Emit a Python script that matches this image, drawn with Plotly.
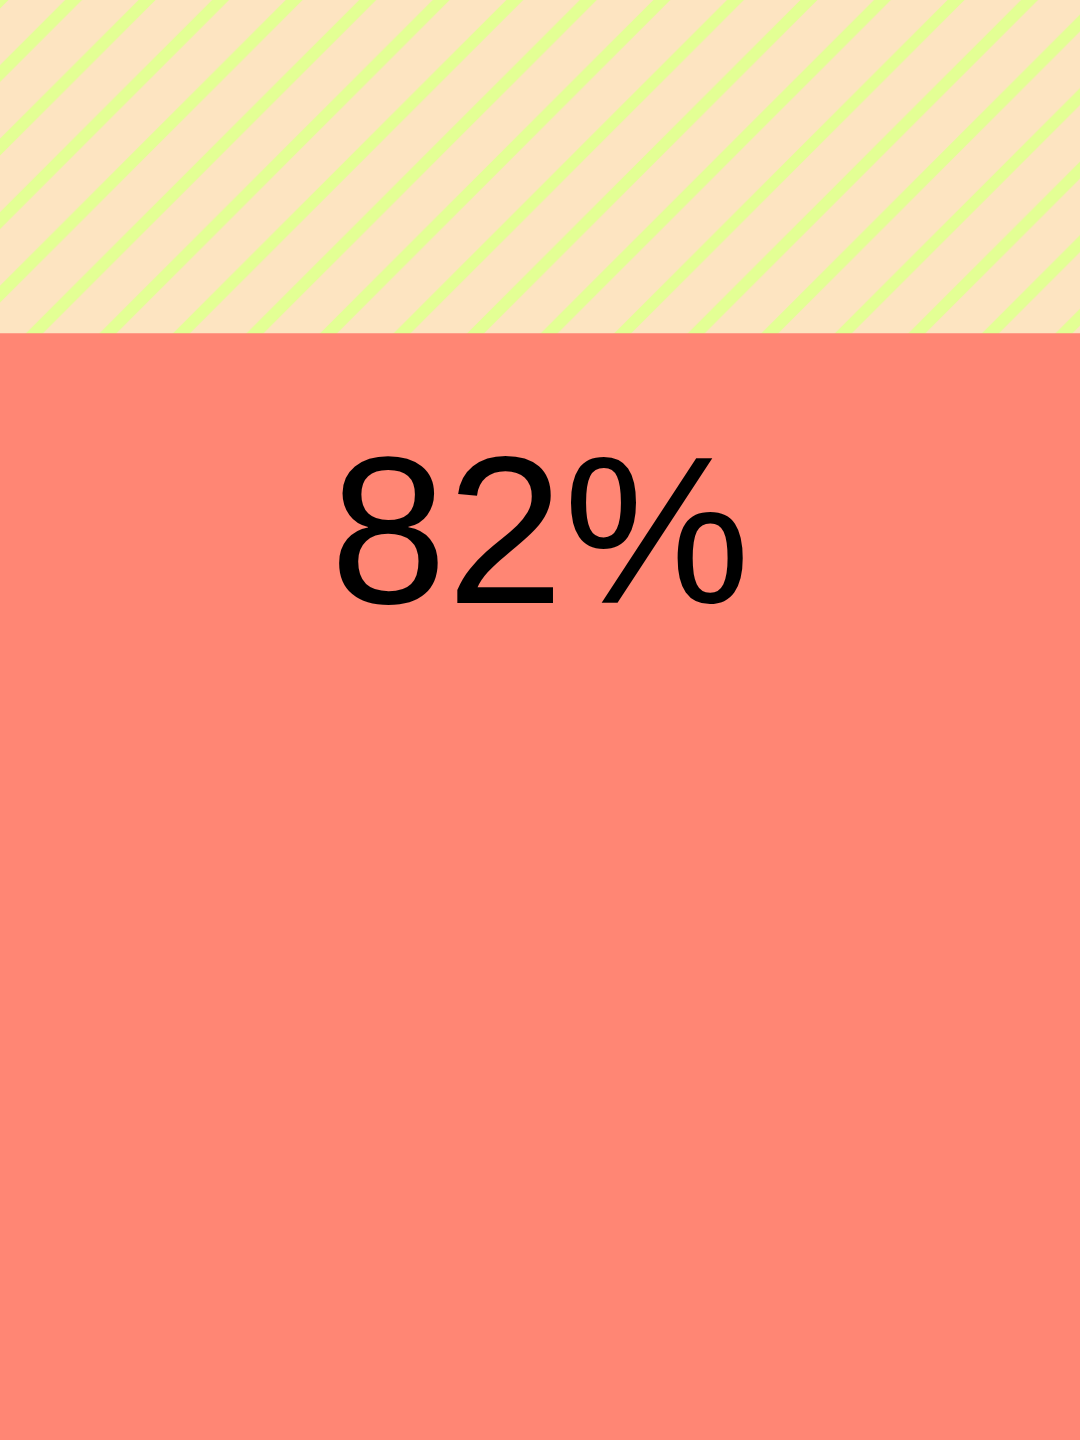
import plotly.graph_objects as go

# Datos
categorias = ['Progreso']
valores = [82]
etiquetas = ['82%']
tope = [106.7]  # fondo del indicador (escala completa)

fig = go.Figure()

# barra de fondo con rayado
fig.add_trace(go.Bar(
    x=categorias, y=tope,
    width=1,
    marker=dict(
        color='#FDE4C1',
        line=dict(width=0),
        pattern=dict(shape='/', bgcolor='#FDE4C1', fgcolor='#E3FF94',
                     size=52, solidity=0.23, fillmode='replace'),
    ),
    hoverinfo='skip',
    showlegend=False,
))

# barra del valor
fig.add_trace(go.Bar(
    x=categorias, y=valores,
    width=1,
    marker=dict(color='#FF8674', line=dict(width=0)),
    showlegend=False,
))

fig.add_annotation(
    x=categorias[0], y=67.4, text=etiquetas[0],
    showarrow=False, yanchor='middle',
    font=dict(family='Liberation Sans, Arial, sans-serif', size=210, color='black'),
)

fig.update_layout(
    width=1080, height=1440,
    margin=dict(l=0, r=0, t=0, b=0),
    barmode='overlay',
    paper_bgcolor='#FF8674',
    plot_bgcolor='#FF8674',
    xaxis=dict(visible=False, range=[-0.5, 0.5]),
    yaxis=dict(visible=False, range=[0, tope[0]]),
)

fig.write_html("out.html", config={'displayModeBar': False},
               post_script="document.body.style.margin='0';")
